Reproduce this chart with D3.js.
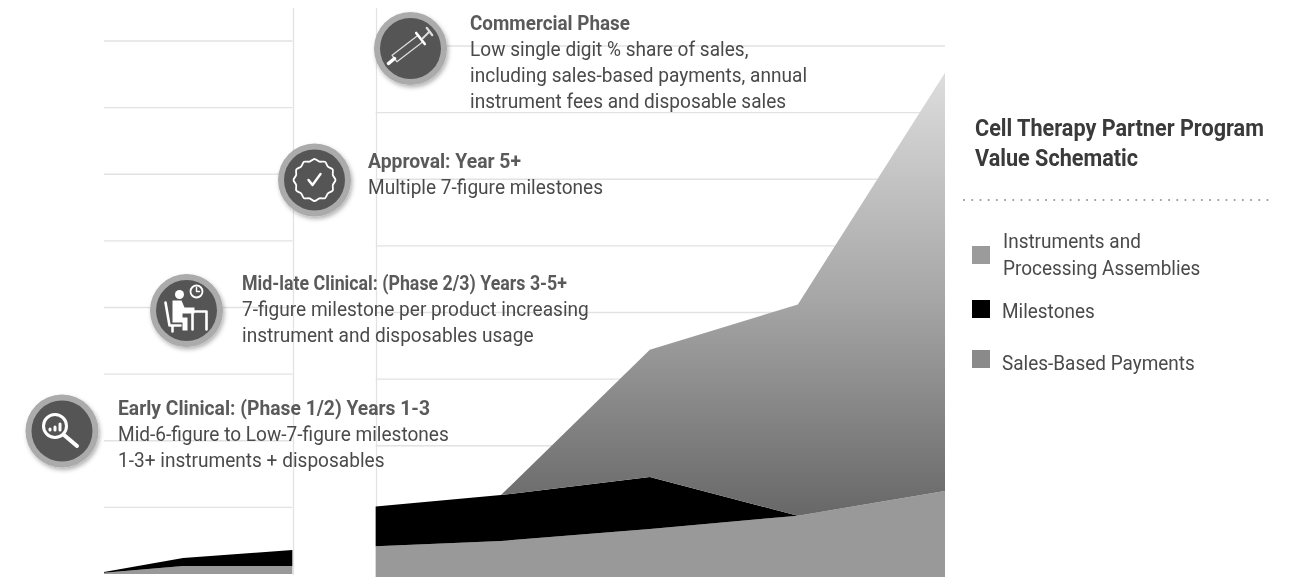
<!DOCTYPE html>
<html>
<head>
<meta charset="utf-8">
<script src="https://cdn.jsdelivr.net/npm/d3@7"></script>
<style>
html, body { margin: 0; padding: 0; background: #fff; }
svg { display: block; font-family: Roboto, sans-serif; filter: blur(0.45px); }
</style>
</head>
<body>
<div id="chart"></div>
<script>
var w = 1290;
var h = 577;

// position along the schematic time axis, 0 to 100
var positions = [0, 9.4, 22.4, 32.3, 47.2, 64.9, 82.5, 100];
// stacked values, in gridline steps
var instruments = [0.02, 0.12, 0.12, 0.49, 0.57, 0.75, 0.95, 1.32];
var milestones = [0.01, 0.12, 0.24, 0.6, 0.69, 0.78, 0, 0];
var salesPayments = [0, 0, 0, 0, 0, 1.91, 3.17, 6.28];
var gridValues = [1, 2, 3, 4, 5, 6, 7, 8];

var seriesKeys = ["instruments", "milestones", "sales"];
var legendLabels = [["Instruments and", "Processing Assemblies"], ["Milestones"], ["Sales-Based Payments"]];
var titleLines = ["Cell Therapy Partner Program", "Value Schematic"];

var phaseTitles = ["Early Clinical: (Phase 1/2) Years 1-3", "Mid-late Clinical: (Phase 2/3) Years 3-5+", "Approval: Year 5+", "Commercial Phase"];
var phaseLines = [
    ["Mid-6-figure to Low-7-figure milestones", "1-3+ instruments + disposables"],
    ["7-figure milestone per product increasing", "instrument and disposables usage"],
    ["Multiple 7-figure milestones"],
    ["Low single digit % share of sales,", "including sales-based payments, annual", "instrument fees and disposable sales"]
];

var table = positions.map(function(p, i) {
    return { pos: p, instruments: instruments[i], milestones: milestones[i], sales: salesPayments[i] };
});
var stacked = d3.stack().keys(seriesKeys)(table);

var xScale = d3.scaleLinear().domain([0, 100]).range([104, 945]);
var yScale = d3.scaleLinear().domain([0, 8]).range([574, 41]);

var svg = d3.select("#chart").append("svg")
    .attr("width", w)
    .attr("height", h);

var defs = svg.append("defs");

// sales area fades from light at the top to dark at the bottom
var grad = defs.append("linearGradient")
    .attr("id", "salesFill")
    .attr("gradientUnits", "userSpaceOnUse")
    .attr("x1", 0).attr("x2", 0)
    .attr("y1", 73).attr("y2", 516);
grad.append("stop").attr("offset", "0%").attr("stop-color", "#dcdcdc");
grad.append("stop").attr("offset", "50%").attr("stop-color", "#a6a6a6");
grad.append("stop").attr("offset", "100%").attr("stop-color", "#666");

var shadow = defs.append("filter").attr("id", "iconShadow")
    .attr("x", "-30%").attr("y", "-30%").attr("width", "160%").attr("height", "160%");
shadow.append("feDropShadow")
    .attr("dx", 1.5).attr("dy", 2.5).attr("stdDeviation", 2)
    .attr("flood-color", "#000").attr("flood-opacity", 0.3);

var area = d3.area()
    .x(function(d) { return xScale(d.data.pos); })
    .y0(function(d) { return yScale(d[0]); })
    .y1(function(d) { return yScale(d[1]); });

var fills = { instruments: "#999", milestones: "#000", sales: "url(#salesFill)" };

// the chart is cut in two panels, the right one sits 5px lower
function drawPanel(from, to, dy) {
    var x0 = xScale(positions[from]);
    var x1 = xScale(positions[to]);
    var g = svg.append("g").attr("transform", "translate(0," + dy + ")");

    g.selectAll("line.grid").data(gridValues).enter().append("line")
        .attr("class", "grid")
        .attr("x1", x0).attr("x2", x1)
        .attr("y1", function(d) { return yScale(d); })
        .attr("y2", function(d) { return yScale(d); })
        .attr("stroke", "#e2e2e2")
        .attr("stroke-width", 1.4);

    g.selectAll("path.layer").data(stacked).enter().append("path")
        .attr("class", "layer")
        .attr("fill", function(d) { return fills[d.key]; })
        .attr("d", function(d) { return area(d.slice(from, to + 1)); });
}

drawPanel(3, 7, 5);
drawPanel(0, 2, 0);

// vertical edges of the gap between panels
[293.5, 376.5].forEach(function(x) {
    svg.append("line")
        .attr("x1", x).attr("x2", x)
        .attr("y1", 8).attr("y2", x < 300 ? 575 : 506)
        .attr("stroke", "#e2e2e2")
        .attr("stroke-width", 1.2);
});

// source type is narrower than Roboto, squeeze it
function squeeze(sel, factor) {
    sel.each(function() {
        this.setAttribute("textLength", this.getComputedTextLength() * factor);
        this.setAttribute("lengthAdjust", "spacingAndGlyphs");
    });
}

// phase callouts
var phaseX = [118, 242, 368, 470];
var phaseY = [415, 290, 168, 30];
var phaseWidths = [312, 325, 153, 160];

function drawPhase(i) {
    var g = svg.append("g").attr("font-size", 20.5);
    g.append("text")
        .attr("x", phaseX[i]).attr("y", phaseY[i])
        .attr("font-size", 19.5)
        .attr("font-weight", 700)
        .attr("fill", "#5a5a5a")
        .attr("textLength", phaseWidths[i])
        .attr("lengthAdjust", "spacingAndGlyphs")
        .text(phaseTitles[i]);
    g.selectAll("text.line").data(phaseLines[i]).enter().append("text")
        .attr("class", "line")
        .attr("x", phaseX[i])
        .attr("y", function(d, k) { return phaseY[i] + 26 * (k + 1) - 0.5; })
        .attr("fill", "#4a4a4a")
        .text(function(d) { return d; })
        .call(squeeze, 0.93);
}
phaseTitles.forEach(function(t, i) { drawPhase(i); });

// icon badges, glyphs drawn around the badge centre
var iconCenters = [[62, 431], [186.5, 310.5], [314.5, 180], [410.5, 48.5]];
var glyphs = [drawSearch, drawSitter, drawBadge, drawSyringe];

iconCenters.forEach(function(c, i) {
    var g = svg.append("g").attr("transform", "translate(" + c[0] + "," + c[1] + ")");
    g.append("circle").attr("r", 36.5).attr("fill", "#ababab").attr("filter", "url(#iconShadow)");
    g.append("circle").attr("r", 30.5).attr("fill", "#555");
    var ig = g.append("g")
        .attr("fill", "none")
        .attr("stroke", "#fff")
        .attr("stroke-linecap", "round")
        .attr("stroke-linejoin", "round");
    glyphs[i](ig);
});

function drawSearch(g) {
    g.append("circle").attr("cx", -7).attr("cy", -5).attr("r", 11.5).attr("stroke-width", 3);
    g.append("path").attr("d", "M2 4L15 15").attr("stroke-width", 4);
    g.append("path").attr("d", "M-12 -1V-2M-7 -1V-4M-2 -1V-7").attr("stroke-width", 3);
}

function drawSitter(g) {
    g.append("circle").attr("cx", -7).attr("cy", -16).attr("r", 4.5).attr("fill", "#fff").attr("stroke", "none");
    g.append("path").attr("fill", "#fff").attr("stroke", "none")
        .attr("d", "M-14 -10H-5L-2 -3H8V3H-4V7H1V20H-4V12H-14Z");
    g.append("path").attr("d", "M-21 -8L-17 15H-6M-14 15V21").attr("stroke-width", 2.6);
    g.append("path").attr("d", "M8 1H20V19M6 3V19").attr("stroke-width", 2.6);
    g.append("circle").attr("cx", 10).attr("cy", -19).attr("r", 6).attr("stroke-width", 1.8);
    g.append("path").attr("d", "M10 -23V-19H13").attr("stroke-width", 1.4);
}

function drawBadge(g) {
    var n = 12;
    var pts = d3.range(n * 2).map(function(k) {
        var a = k * Math.PI / n;
        var r = k % 2 ? 19 : 21;
        return [r * Math.sin(a), -r * Math.cos(a)];
    });
    g.append("path").attr("stroke-width", 1.8)
        .attr("d", d3.line().curve(d3.curveCatmullRomClosed)(pts));
    g.append("path").attr("d", "M-6 0L-2 5L6 -6").attr("stroke-width", 2.4);
}

function drawSyringe(g) {
    g.append("path").attr("stroke-width", 1.3).attr("stroke", "#ddd")
        .attr("d", "M-18.4 6.8L7.6 -13.2L12.4 -6.8L-13.6 13.2Z");
    g.append("path").attr("d", "M5.7 -15.5L14.3 -4.5").attr("stroke-width", 2.6);
    g.append("path").attr("d", "M12 -10L19 -17").attr("stroke-width", 2).attr("stroke", "#ddd");
    g.append("path").attr("d", "M16.3 -20.6L21.7 -13.4").attr("stroke-width", 2.4).attr("stroke", "#ddd");
    g.append("path").attr("d", "M-16 10L-22 15").attr("stroke-width", 3.5);
}

// title and legend on the right
svg.selectAll("text.title").data(titleLines).enter().append("text")
    .attr("class", "title")
    .attr("x", 975)
    .attr("y", function(d, i) { return 136 + 30 * i; })
    .attr("font-size", 23)
    .attr("font-weight", 700)
    .attr("fill", "#3a3a3a")
    .text(function(d) { return d; })
    .call(squeeze, 0.94);

svg.append("line")
    .attr("x1", 964).attr("x2", 1270)
    .attr("y1", 200).attr("y2", 200)
    .attr("stroke", "#999")
    .attr("stroke-width", 2)
    .attr("stroke-linecap", "round")
    .attr("stroke-dasharray", "0.1 8.1");

var legendFill = d3.scaleOrdinal().domain(seriesKeys).range(["#9b9b9b", "#000", "#8a8a8a"]);
var swatchY = [246, 300, 350];
var legendY = [248, 317.5, 370];

seriesKeys.forEach(function(k, i) {
    svg.append("rect")
        .attr("x", 972).attr("y", swatchY[i])
        .attr("width", 18).attr("height", 18)
        .attr("fill", legendFill(k));
    legendLabels[i].forEach(function(t, j) {
        svg.append("text")
            .attr("x", i === 0 ? 1003 : 1002)
            .attr("y", legendY[i] + 26.5 * j)
            .attr("font-size", 20.5)
            .attr("fill", "#4a4a4a")
            .text(t)
            .call(squeeze, 0.925);
    });
});
</script>
</body>
</html>
